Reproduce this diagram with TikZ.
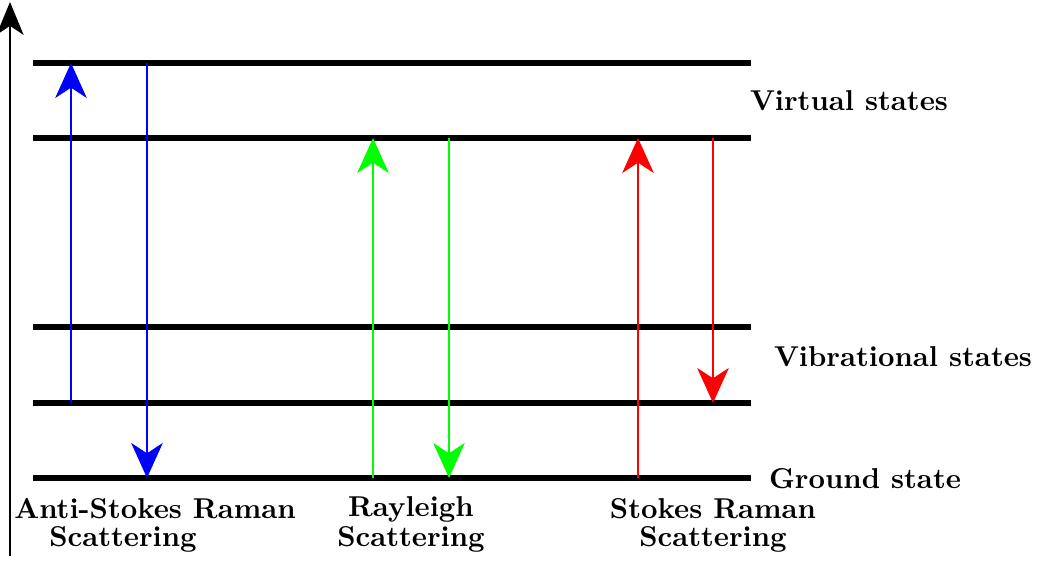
\documentclass[tikz,border=0pt]{standalone}
\usetikzlibrary{arrows.meta}
\begin{document}
\begin{tikzpicture}[x=0.3484pt,y=-0.3484pt,
  level/.style={line width=2.3pt},
  trans/.style={line width=0.4pt,-{Stealth[length=12.2pt,width=11pt,inset=3.6pt]}},
  lbl/.style={font=\bfseries,anchor=base,inner sep=0pt}]
\useasboundingbox (0,0) rectangle (1040,561);
% axis
\coordinate (ax0) at (10,556);
\coordinate (ax1) at (10,2);
\draw[line width=0.5pt,-{Stealth[length=11.5pt,width=9.5pt,inset=3.2pt]}] (ax0) -- (ax1);
% levels
\foreach \n/\y in {v2/63,v1/138,b2/327,b1/403,g/478}{
  \coordinate (\n L) at (33,\y);
  \coordinate (\n R) at (751,\y);
  \draw[level] (\n L) -- (\n R);
}
% anti-Stokes
\coordinate (a1) at (71,403); \coordinate (a2) at (71,63);
\coordinate (a3) at (147,63); \coordinate (a4) at (147,478);
\draw[trans,blue] (a1) -- (a2);
\draw[trans,blue] (a3) -- (a4);
% Rayleigh
\coordinate (r1) at (373,478); \coordinate (r2) at (373,138);
\coordinate (r3) at (449,138); \coordinate (r4) at (449,478);
\draw[trans,green] (r1) -- (r2);
\draw[trans,green] (r3) -- (r4);
% Stokes
\coordinate (s1) at (638,478); \coordinate (s2) at (638,138);
\coordinate (s3) at (713,138); \coordinate (s4) at (713,403);
\draw[trans,red] (s1) -- (s2);
\draw[trans,red] (s3) -- (s4);
% labels
\node[lbl] (virt) at (849,111) {Virtual states};
\node[lbl] (vib) at (903,367) {Vibrational states};
\node[lbl] (gs) at (865,489) {Ground state};
\node[lbl] (as1) at (155,519) {Anti-Stokes Raman};
\node[lbl] (as2) at (123,547) {Scattering};
\node[lbl] (ry1) at (411,517) {Rayleigh};
\node[lbl] (ry2) at (411,547) {Scattering};
\node[lbl] (st1) at (713,519) {Stokes Raman};
\node[lbl] (st2) at (713,547) {Scattering};
\end{tikzpicture}
\end{document}
